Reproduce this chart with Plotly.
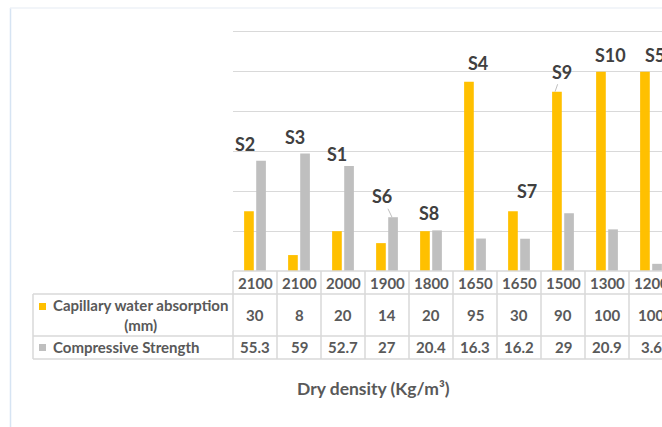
import plotly.graph_objects as go

# --- data -----------------------------------------------------------------
densities = ["2100", "2100", "2000", "1900", "1800", "1650", "1650", "1500", "1300", "1200"]
samples = ["S2", "S3", "S1", "S6", "S8", "S4", "S7", "S9", "S10", "S5"]
capillary = [30, 8, 20, 14, 20, 95, 30, 90, 100, 100]
compressive = [55.3, 59, 52.7, 27, 20.4, 16.3, 16.2, 29, 20.9, 3.6]

SERIES_NAMES = ["Capillary water absorption<br>(mm)", "Compressive Strength"]
YELLOW, GREY = "#FFC000", "#BFBFBF"
TEXT, LABEL, GRID = "#595959", "#404040", "#D9D9D9"
FONT = "Lato, 'Open Sans', sans-serif"

# --- page geometry (pixels) -----------------------------------------------
W, H = 662, 427
PLOT_L, PLOT_T, PLOT_B = 233, 30, 271
Y_MAX = 121  # a touch above 120 so the top gridline is drawn
COL_W = 44
TABLE_L = 33
ROW_LINES = [294, 336, 359]
ROW_TEXT = [283, 315, 347]


def px(x):
    return x / W


def py(y):
    return 1 - y / H


x_idx = list(range(len(densities)))

fig = go.Figure()
fig.add_trace(go.Bar(x=x_idx, y=capillary, name=SERIES_NAMES[0],
                     marker=dict(color=YELLOW, line=dict(width=0))))
fig.add_trace(go.Bar(x=x_idx, y=compressive, name=SERIES_NAMES[1],
                     marker=dict(color=GREY, line=dict(width=0))))

shapes = []
line = dict(color=GRID, width=1.5)
# chart frame (faint)
shapes.append(dict(type="line", xref="paper", yref="paper", x0=px(10.5), x1=px(10.5),
                   y0=py(8), y1=0, line=dict(color="#D6E4F3", width=1.5)))
shapes.append(dict(type="line", xref="paper", yref="paper", x0=px(10), x1=1,
                   y0=py(8), y1=py(8), line=dict(color="#EEF2F7", width=1.5)))
# data table grid
shapes.append(dict(type="line", xref="paper", yref="paper", x0=px(PLOT_L), x1=1,
                   y0=py(PLOT_B), y1=py(PLOT_B), line=line))
for yl in ROW_LINES:
    shapes.append(dict(type="line", xref="paper", yref="paper", x0=px(TABLE_L), x1=1,
                       y0=py(yl), y1=py(yl), line=line))
shapes.append(dict(type="line", xref="paper", yref="paper", x0=px(TABLE_L), x1=px(TABLE_L),
                   y0=py(ROW_LINES[0]), y1=py(ROW_LINES[-1]), line=line))
for k in range(len(densities)):
    xl = PLOT_L + k * COL_W
    shapes.append(dict(type="line", xref="paper", yref="paper", x0=px(xl), x1=px(xl),
                       y0=py(PLOT_B), y1=py(ROW_LINES[-1]), line=line))
# legend keys
for colour, yc in [(YELLOW, 306.5), (GREY, 347.5)]:
    shapes.append(dict(type="rect", xref="paper", yref="paper", x0=px(39), x1=px(46),
                       y0=py(yc - 3.5), y1=py(yc + 3.5), fillcolor=colour, line=dict(width=0)))

annotations = []
cell_font = dict(family=FONT, size=15, color=TEXT, weight="bold")
for i, d in enumerate(densities):
    for yt, val in zip(ROW_TEXT, [d, capillary[i], compressive[i]]):
        annotations.append(dict(x=i, y=py(yt), xref="x", yref="paper", text=str(val),
                                showarrow=False, font=cell_font, xanchor="center",
                                yanchor="middle"))
annotations.append(dict(x=px(140), y=py(315), xref="paper", yref="paper",
                        text=SERIES_NAMES[0], showarrow=False, font=cell_font,
                        xanchor="center", yanchor="middle", align="center"))
annotations.append(dict(x=px(51), y=py(347), xref="paper", yref="paper",
                        text=SERIES_NAMES[1], showarrow=False, font=cell_font,
                        xanchor="left", yanchor="middle"))
annotations.append(dict(x=px(373), y=py(388), xref="paper", yref="paper",
                        text="Dry density (Kg/m³)", showarrow=False,
                        font=dict(family=FONT, size=17.5, color=TEXT, weight="bold"),
                        xanchor="center", yanchor="middle"))

# sample labels above each pair of bars (manual nudges like the original)
nudge = {"S2": (-10, 17), "S3": (-4, 16), "S1": (-6, 12), "S8": (-2, 17),
         "S4": (3, 19), "S7": (8, 20), "S10": (3, 17), "S5": (4, 17)}
label_font = dict(family=FONT, size=18, color=LABEL, weight="bold")
for i, s in enumerate(samples):
    top = max(capillary[i], compressive[i])
    if s in nudge:
        dx, dy = nudge[s]
        annotations.append(dict(x=i, y=top, xref="x", yref="y", text=s, showarrow=False,
                                xshift=dx, yshift=dy, font=label_font,
                                xanchor="center", yanchor="middle"))
# labels with leader lines
annotations.append(dict(x=samples.index("S6"), y=compressive[samples.index("S6")],
                        xref="x", yref="y", text="S6", xshift=5, showarrow=True,
                        arrowhead=0, arrowwidth=1, arrowcolor="#BFBFBF", ax=-10, ay=-21,
                        font=label_font))
annotations.append(dict(x=samples.index("S9"), y=capillary[samples.index("S9")],
                        xref="x", yref="y", text="S9", xshift=-8, showarrow=True,
                        arrowhead=0, arrowwidth=1, arrowcolor="#BFBFBF", ax=7, ay=-20,
                        font=label_font))

fig.update_layout(
    width=W, height=H,
    margin=dict(l=0, r=0, t=0, b=0),
    paper_bgcolor="white", plot_bgcolor="white",
    barmode="group", bargap=0.45, bargroupgap=0.2,
    showlegend=False,
    xaxis=dict(domain=[px(PLOT_L), 1], range=[-0.5, -0.5 + (W - PLOT_L) / COL_W],
               showgrid=False, zeroline=False, showticklabels=False, ticks="",
               showline=False, fixedrange=True),
    yaxis=dict(domain=[py(PLOT_B), py(PLOT_T)], range=[0, Y_MAX], tick0=0, dtick=20,
               showgrid=True, gridcolor=GRID, gridwidth=1, zeroline=False,
               showticklabels=False, ticks="", showline=False, fixedrange=True),
    shapes=shapes,
    annotations=annotations,
)

fig.write_html(
    "out.html",
    config={"displayModeBar": False},
    post_script="document.body.style.margin='0';document.body.style.overflow='hidden';",
)
